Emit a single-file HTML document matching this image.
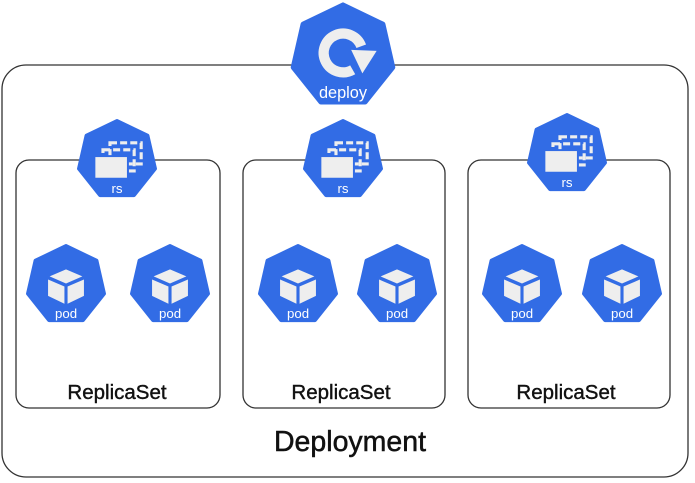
<!DOCTYPE html>
<html><head><meta charset="utf-8"><style>
html,body{margin:0;padding:0;background:#fff;}
svg{display:block;}
text{font-family:"Liberation Sans",sans-serif;}
</style></head><body>
<svg width="695" height="483" viewBox="0 0 695 483" xmlns="http://www.w3.org/2000/svg">
<defs>
<polygon id="hep" points="0,-50 39.09,-31.18 48.75,11.13 21.7,45.05 -21.7,45.05 -48.75,11.13 -39.09,-31.18" fill="#326ce5" stroke="#326ce5" stroke-width="5" stroke-linejoin="round"/>
<g id="pod">
<use href="#hep"/>
<polygon points="0,-20 21,-11 0,-2 -21,-11" fill="#eeeeee"/>
<polygon points="-23,-7 -2,2 -2,24 -23,14" fill="#eeeeee"/>
<polygon points="23,-7 2,2 2,24 23,14" fill="#eeeeee"/>
<text x="0" y="42" font-size="17" fill="#fff" text-anchor="middle">pod</text>
</g>
<g id="rs">
<use href="#hep"/>
<rect x="-9" y="-22" width="40" height="27" fill="none" stroke="#eee" stroke-width="4" stroke-dasharray="9,4"/>
<rect x="-18" y="-13" width="40" height="27" fill="none" stroke="#eee" stroke-width="4" stroke-dasharray="9,4"/>
<rect x="-29" y="-5" width="43" height="29" fill="#eee" stroke="#326ce5" stroke-width="2.5"/>
<text x="0" y="42" font-size="17" fill="#fff" text-anchor="middle">rs</text>
</g>
</defs>
<rect x="2" y="65" width="686" height="412" rx="24" fill="none" stroke="#333" stroke-width="1.3"/>
<rect x="16" y="160" width="204" height="248" rx="13" fill="none" stroke="#333" stroke-width="1.3"/>
<rect x="243" y="160" width="202" height="248" rx="13" fill="none" stroke="#333" stroke-width="1.3"/>
<rect x="468" y="160" width="202" height="248" rx="13" fill="none" stroke="#333" stroke-width="1.3"/>

<g transform="translate(343,56) scale(1.02)">
<use href="#hep"/>
<path d="M 9.5,13.5 A 19,19 0 1 1 17.9,-9.5" fill="none" stroke="#eee" stroke-width="10"/>
<polygon points="8,-6 33,-5 19,17" fill="#eee"/>
<text x="0" y="41" font-size="16" fill="#fff" text-anchor="middle">deploy</text>
</g>

<g transform="translate(117,160) scale(0.78)"><use href="#rs"/></g>
<g transform="translate(343,160) scale(0.78)"><use href="#rs"/></g>
<g transform="translate(567,154) scale(0.78)"><use href="#rs"/></g>

<g transform="translate(66,285) scale(0.78)"><use href="#pod"/></g>
<g transform="translate(170,285) scale(0.78)"><use href="#pod"/></g>
<g transform="translate(298,285) scale(0.78)"><use href="#pod"/></g>
<g transform="translate(397,285) scale(0.78)"><use href="#pod"/></g>
<g transform="translate(522,285) scale(0.78)"><use href="#pod"/></g>
<g transform="translate(622,285) scale(0.78)"><use href="#pod"/></g>

<g fill="#111" stroke="#111" stroke-width="0.4">
<text x="117" y="399" font-size="20.5" text-anchor="middle">ReplicaSet</text>
<text x="341" y="399" font-size="20.5" text-anchor="middle">ReplicaSet</text>
<text x="566" y="399" font-size="20.5" text-anchor="middle">ReplicaSet</text>
<text x="350" y="451" font-size="28.5" text-anchor="middle" stroke-width="0.5">Deployment</text>
</g>
</svg>
</body></html>
